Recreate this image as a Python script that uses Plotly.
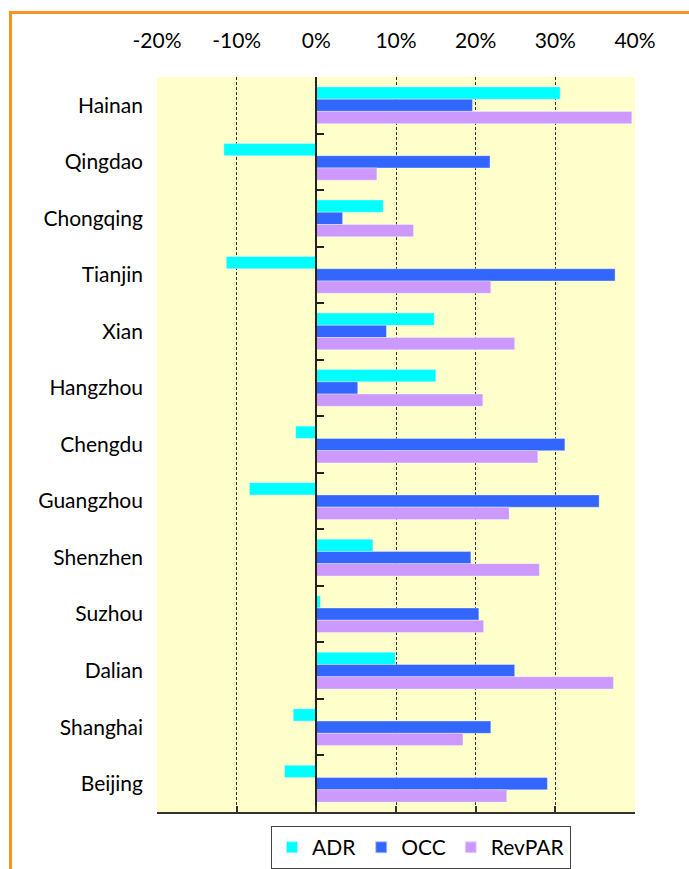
import plotly.graph_objects as go

cities = ["Hainan", "Qingdao", "Chongqing", "Tianjin", "Xian", "Hangzhou", "Chengdu",
          "Guangzhou", "Shenzhen", "Suzhou", "Dalian", "Shanghai", "Beijing"]
adr = [30.6, -11.6, 8.4, -11.3, 14.8, 15.0, -2.6, -8.4, 7.1, 0.5, 9.9, -2.9, -4.0]
occ = [19.6, 21.8, 3.3, 37.5, 8.8, 5.2, 31.2, 35.5, 19.4, 20.4, 24.9, 21.9, 29.0]
revpar = [39.6, 7.6, 12.2, 21.9, 24.9, 20.9, 27.8, 24.2, 28.0, 21.0, 37.3, 18.4, 23.9]
tick_vals = [-20, -10, 0, 10, 20, 30, 40]
tick_text = ["-20%", "-10%", "0%", "10%", "20%", "30%", "40%"]

FONT = "Lato"
FS = 21
W, H = 689, 869
L, R, T, B = 157, 635, 77, 812

fig = go.Figure()
for name, vals, col in [("ADR", adr, "#00FFFF"), ("OCC", occ, "#3366FF"), ("RevPAR", revpar, "#CC99FF")]:
    fig.add_trace(go.Bar(y=cities, x=vals, name=name, orientation="h",
                         marker=dict(color=col, line=dict(width=0.6, color="rgba(255,255,255,0.6)")),
                         hoverinfo="x+y"))

# invisible helper trace for the secondary axes (top labels, category ticks at zero)
fig.add_trace(go.Scatter(x=[0], y=[0], xaxis="x2", yaxis="y2", mode="markers",
                         marker=dict(opacity=0), showlegend=False, hoverinfo="skip"))

def px2x(px):
    return (px - L) / (R - L)

def px2y(py):
    return 1 - (py - T) / (B - T)

zero_pos = (0 - (-20)) / 60

fig.update_layout(
    width=W, height=H,
    margin=dict(l=L, r=W - R, t=T, b=H - B, pad=0, autoexpand=False),
    paper_bgcolor="white",
    plot_bgcolor="#FFFFCC",
    barmode="group",
    bargap=0.35,
    bargroupgap=0,
    font=dict(family=FONT, size=FS, color="black"),
    xaxis=dict(range=[-20, 40], tickvals=tick_vals, showticklabels=False,
               showgrid=True, gridcolor="#333333", griddash="3px,2px", gridwidth=1,
               zeroline=False, showline=True, linecolor="#333333", linewidth=1.5,
               ticks="inside", ticklen=6, tickcolor="#333333", tickwidth=1.5,
               side="bottom", fixedrange=True),
    xaxis2=dict(range=[-20, 40], tickvals=tick_vals, ticktext=tick_text,
                overlaying="x", side="top", anchor="y", showgrid=False, zeroline=False,
                showline=False, ticks="", ticklabelstandoff=24,
                tickfont=dict(family=FONT, size=FS, color="black"), fixedrange=True),
    yaxis=dict(categoryorder="array", categoryarray=cities, autorange=False,
               range=[12.5, -0.5], showgrid=False, zeroline=False, showline=False,
               ticks="", ticklabelstandoff=13,
               tickfont=dict(family=FONT, size=FS, color="black"), fixedrange=True),
    yaxis2=dict(range=[12.5, -0.5], overlaying="y", anchor="free", position=zero_pos,
                side="left", tickvals=[i - 0.5 for i in range(14)], showticklabels=False,
                ticks="inside", ticklen=7, tickcolor="#222222", tickwidth=1.5,
                showline=True, linecolor="#222222", linewidth=1.5,
                showgrid=False, zeroline=False, fixedrange=True),
    legend=dict(orientation="h", x=px2x(421), xanchor="center", y=px2y(826), yanchor="top",
                bordercolor="#444444", borderwidth=1, bgcolor="white",
                font=dict(family=FONT, size=FS, color="black"),
                itemsizing="constant", itemwidth=30, tracegroupgap=0),
    shapes=[
        dict(type="line", xref="paper", yref="paper", x0=px2x(9), x1=px2x(700),
             y0=px2y(12.5), y1=px2y(12.5), line=dict(color="#F7931E", width=3)),
        dict(type="line", xref="paper", yref="paper", x0=px2x(10.5), x1=px2x(10.5),
             y0=px2y(11), y1=px2y(880), line=dict(color="#F7931E", width=3)),
    ],
)

fig.write_html("out.html")
